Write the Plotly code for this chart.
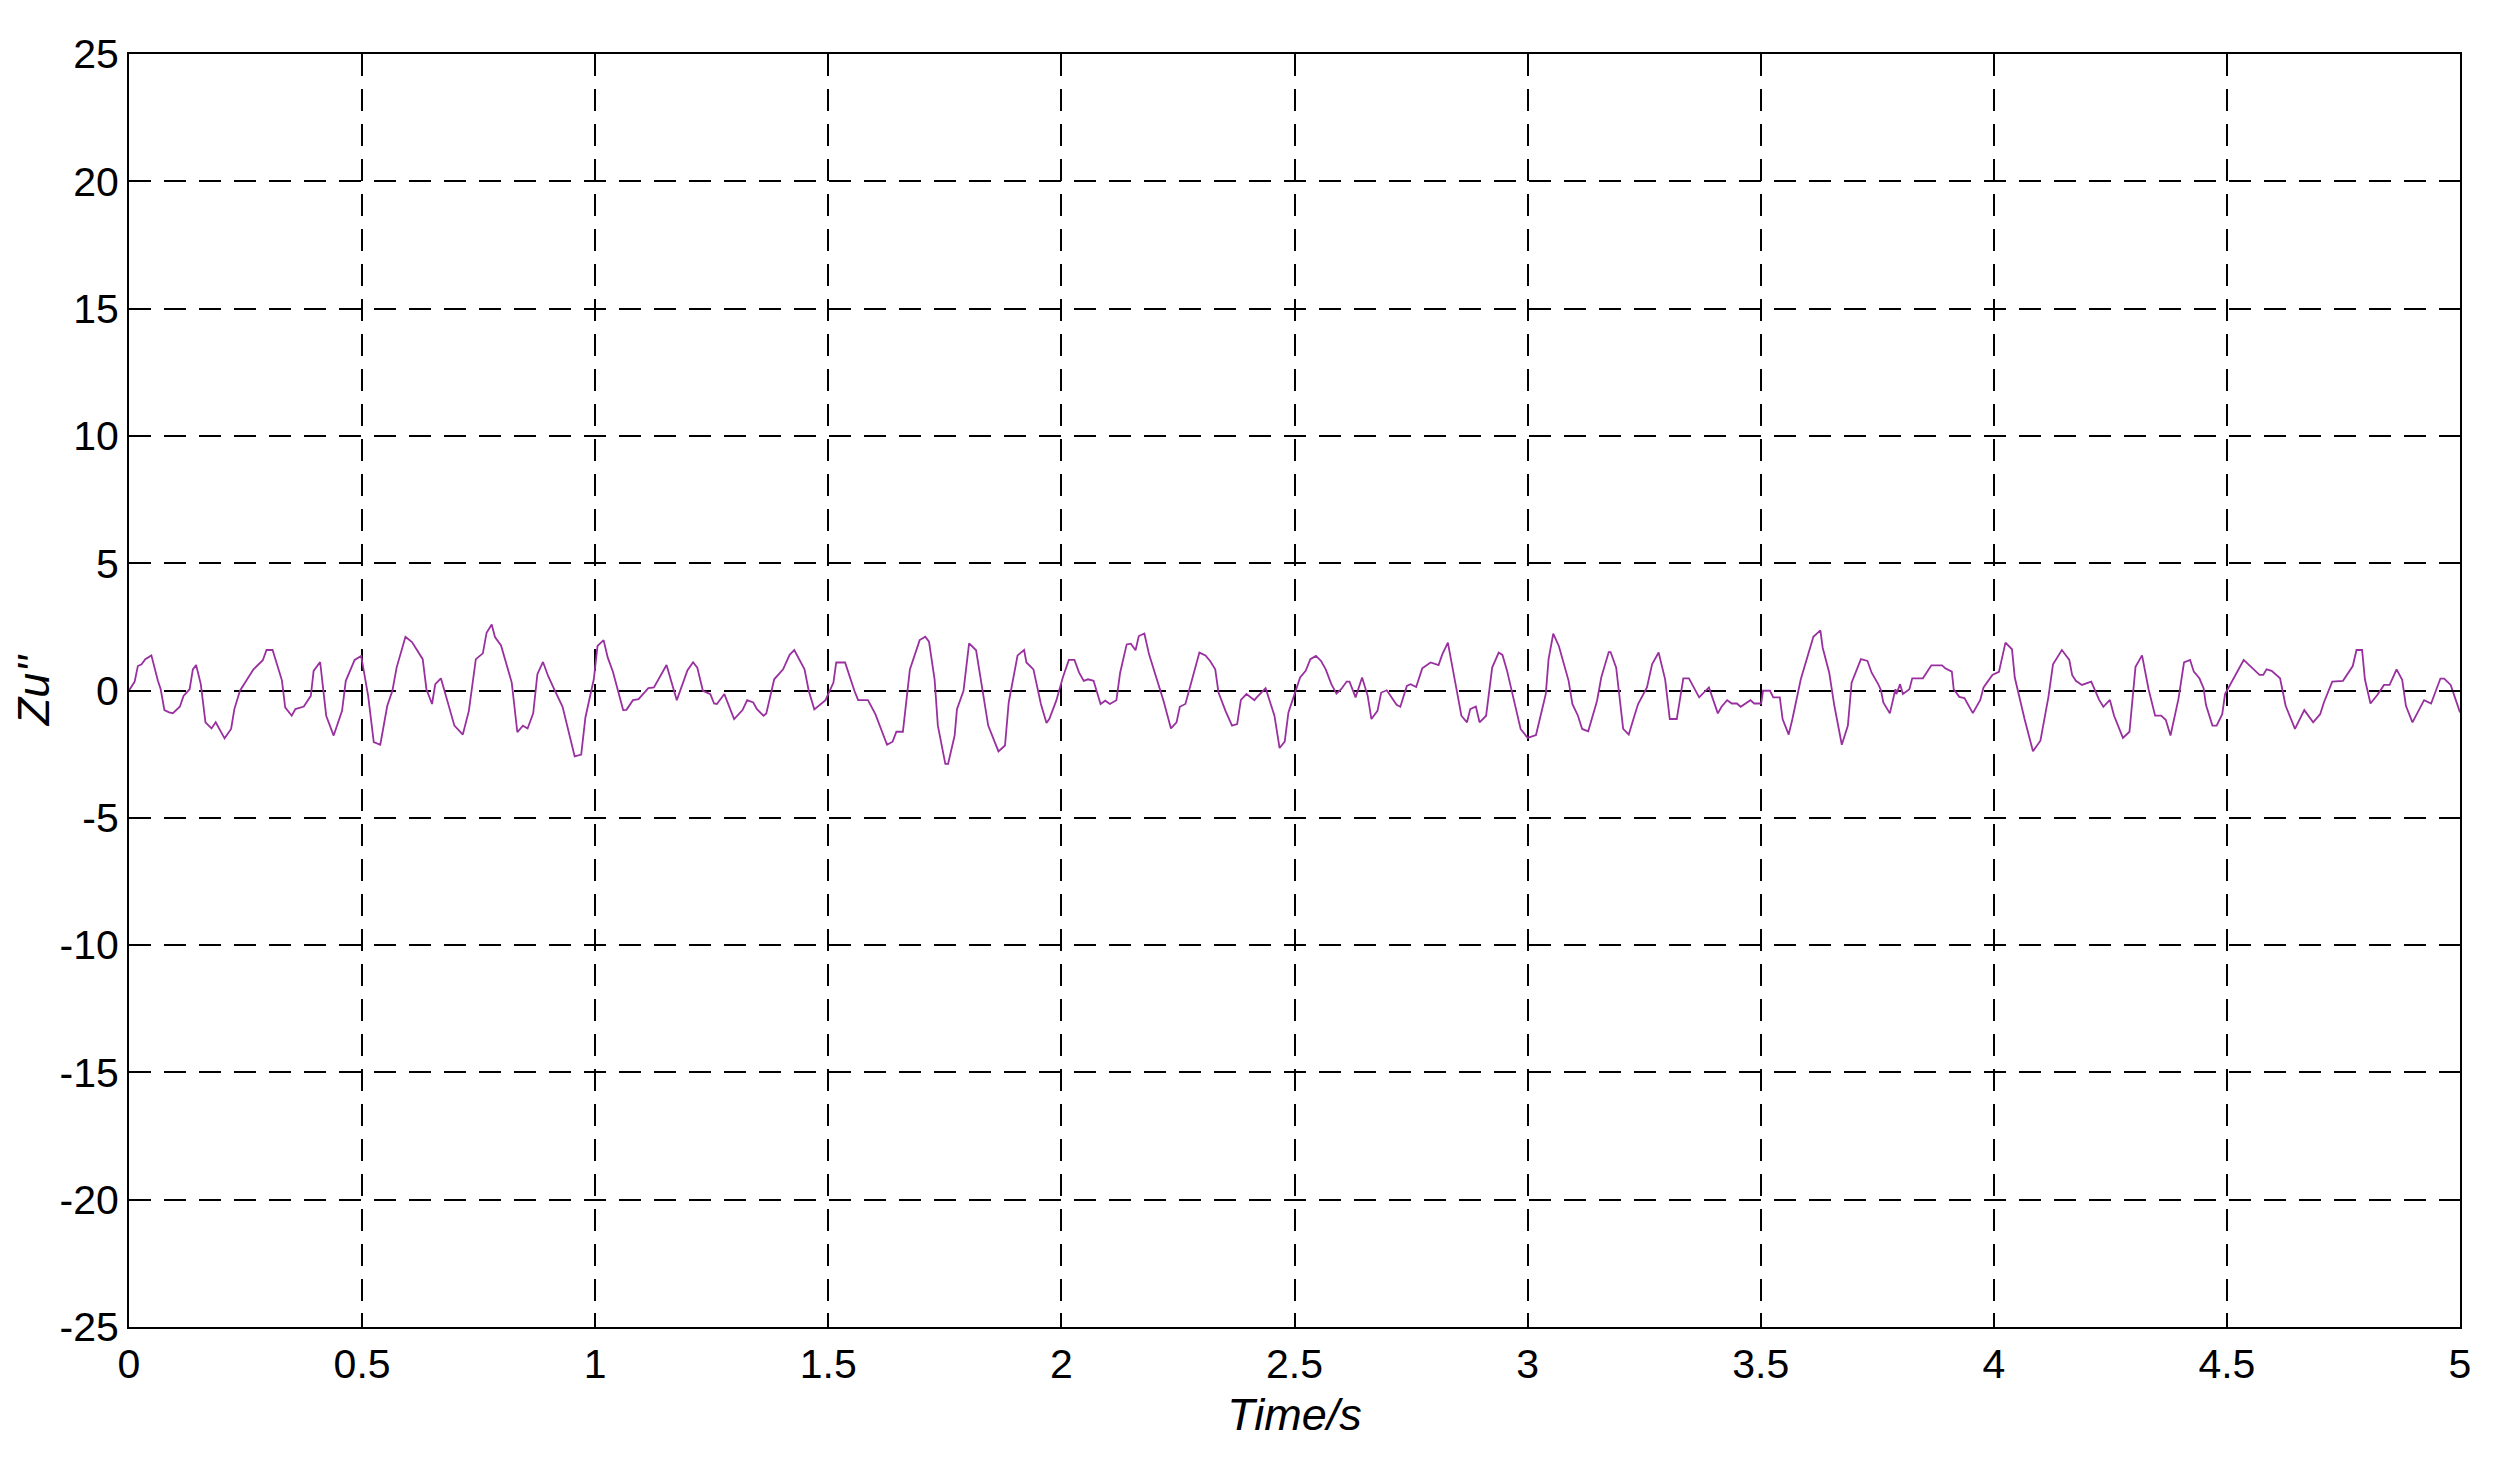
import plotly.graph_objects as go

time_s = [0.000,0.012,0.019,0.027,0.035,0.048,0.062,0.068,0.076,0.086,0.094,0.109,0.117,0.130,0.137,0.144,0.154,0.164,0.177,0.186,0.205,0.219,0.226,0.238,0.267,0.287,0.295,0.308,0.328,0.335,0.349,0.357,0.375,0.390,0.396,0.410,0.423,0.439,0.457,0.465,0.484,0.498,0.513,0.525,0.539,0.554,0.565,0.574,0.593,0.607,0.630,0.638,0.650,0.657,0.669,0.698,0.716,0.729,0.744,0.759,0.767,0.778,0.785,0.798,0.821,0.833,0.845,0.855,0.867,0.876,0.888,0.899,0.911,0.930,0.956,0.970,0.979,0.997,1.005,1.018,1.027,1.038,1.060,1.067,1.081,1.093,1.114,1.126,1.153,1.175,1.198,1.210,1.219,1.231,1.247,1.255,
1.261,1.277,1.298,1.316,1.326,1.339,1.347,1.361,1.367,1.384,1.403,1.417,1.427,1.440,1.449,1.458,1.470,1.494,1.511,1.517,1.536,1.556,1.564,1.585,1.601,1.626,1.638,1.646,1.660,1.675,1.696,1.708,1.716,1.728,1.735,1.751,1.757,1.771,1.776,1.790,1.802,1.817,1.829,1.843,1.865,1.879,1.887,1.906,1.920,1.925,1.940,1.956,1.968,1.974,1.989,2.003,2.016,2.028,2.038,2.048,2.057,2.069,2.084,2.094,2.104,2.118,2.126,2.140,2.149,2.159,2.166,2.178,2.188,2.219,2.235,2.247,2.254,2.266,2.296,2.309,2.319,2.330,2.337,2.352,2.366,2.377,2.385,2.397,2.414,2.419,2.438,2.457,2.468,2.479,2.487,2.512,2.524,
2.534,2.546,2.557,2.567,2.579,2.590,2.600,2.612,2.618,2.631,2.645,2.657,2.665,2.678,2.686,2.698,2.719,2.727,2.741,2.749,2.761,2.774,2.792,2.809,2.817,2.829,2.844,2.858,2.870,2.877,2.889,2.897,2.911,2.924,2.938,2.946,2.956,2.969,2.985,3.000,3.018,3.039,3.045,3.055,3.067,3.088,3.096,3.108,3.117,3.130,3.149,3.158,3.174,3.178,3.190,3.205,3.217,3.227,3.237,3.256,3.267,3.281,3.295,3.305,3.320,3.334,3.346,3.368,3.389,3.408,3.416,3.428,3.438,3.449,3.457,3.478,3.486,3.501,3.505,3.520,3.527,3.541,3.547,3.560,3.568,3.586,3.613,3.628,3.633,3.647,3.658,3.674,3.687,3.695,3.715,3.729,3.738,3.752,3.758,3.763,3.777,3.789,
3.791,3.799,3.805,3.819,3.825,3.848,3.866,3.889,3.896,3.910,3.914,3.926,3.937,3.955,3.971,3.978,3.997,4.011,4.025,4.039,4.045,4.066,4.084,4.100,4.117,4.127,4.146,4.162,4.168,4.176,4.189,4.209,4.226,4.235,4.249,4.258,4.277,4.291,4.304,4.318,4.332,4.346,4.359,4.369,4.379,4.396,4.408,4.421,4.429,4.441,4.450,4.455,4.469,4.478,4.490,4.496,4.536,4.570,4.578,4.585,4.596,4.614,4.626,4.646,4.666,4.685,4.700,4.708,4.726,4.749,4.770,4.778,4.790,4.796,4.808,4.823,4.837,4.849,4.864,4.876,4.884,4.898,4.923,4.938,4.958,4.966,4.980,5.000]

zu = [0,0.34,0.96,1.03,1.23,1.38,0.38,0.05,-0.77,-0.86,-0.89,-0.64,-0.21,0.05,0.83,1.00,0.25,-1.25,-1.49,-1.25,-1.88,-1.51,-0.73,-0.01,0.83,1.19,1.59,1.59,0.40,-0.66,-0.99,-0.73,-0.63,-0.21,0.77,1.12,-0.99,-1.77,-0.80,0.38,1.20,1.36,-0.21,-2.03,-2.13,-0.60,-0.01,0.90,2.11,1.90,1.23,0.05,-0.53,0.25,0.48,-1.38,-1.73,-0.80,1.23,1.46,2.27,2.59,2.10,1.77,0.31,-1.64,-1.38,-1.49,-0.90,0.64,1.12,0.57,0.09,-0.64,-2.59,-2.52,-1.06,0.44,1.75,1.98,1.29,0.74,-0.77,-0.76,-0.38,-0.34,0.09,0.12,1.00,-0.38,0.80,1.11,0.90,-0.01,-0.14,-0.51,
-0.53,-0.14,-1.12,-0.77,-0.38,-0.47,-0.73,-0.99,-0.90,0.44,0.83,1.40,1.59,1.16,0.83,-0.01,-0.74,-0.38,0.31,1.10,1.10,-0.01,-0.38,-0.38,-0.93,-2.13,-2.01,-1.62,-1.62,0.83,1.98,2.11,1.92,0.44,-1.38,-2.88,-2.88,-1.77,-0.73,-0.01,1.85,1.58,0.18,-1.38,-2.39,-2.16,-0.47,1.38,1.59,1.10,0.83,-0.53,-1.28,-1.12,-0.40,0.51,1.20,1.20,0.70,0.38,0.44,0.38,-0.53,-0.40,-0.53,-0.38,0.70,1.81,1.84,1.58,2.14,2.24,1.42,-0.40,-1.49,-1.25,-0.64,-0.53,1.49,1.38,1.16,0.83,-0.08,-0.80,-1.38,-1.32,-0.37,-0.14,-0.38,-0.27,0.09,-0.99,-2.26,-2.01,-0.86,0.51,0.77,
1.23,1.36,1.16,0.83,0.25,-0.12,0.05,0.35,0.35,-0.27,0.51,-0.21,-1.12,-0.80,-0.08,0.01,-0.56,-0.64,0.18,0.25,0.14,0.87,1.10,1.00,1.42,1.88,0.44,-0.99,-1.25,-0.73,-0.63,-1.25,-0.99,0.90,1.49,1.40,0.77,-0.27,-1.51,-1.86,-1.75,-0.14,1.23,2.23,1.75,0.38,-0.53,-0.99,-1.51,-1.60,-0.40,0.51,1.51,1.51,0.90,-1.51,-1.73,-1.12,-0.53,0.12,1.03,1.49,0.44,-1.12,-1.12,0.48,0.48,-0.27,0.12,-0.90,-0.64,-0.38,-0.51,-0.51,-0.64,-0.38,-0.51,-0.51,-0.01,-0.01,-0.27,-0.27,-1.12,-1.73,-1.12,0.44,2.11,2.36,1.68,0.70,-0.60,-2.13,-1.38,0.31,1.23,1.16,0.70,0.25,0.01,-0.47,-0.90,0.05,
-0.14,0.25,-0.14,0.05,0.48,0.48,0.99,0.99,0.87,0.74,0.05,-0.25,-0.30,-0.89,-0.37,0.12,0.61,0.73,1.88,1.62,0.51,-1.12,-2.39,-1.97,-0.27,1.03,1.59,1.20,0.61,0.38,0.22,0.35,-0.37,-0.64,-0.37,-0.99,-1.86,-1.62,0.93,1.38,0.05,-0.99,-0.99,-1.16,-1.77,-0.34,1.10,1.20,0.74,0.48,0.09,-0.56,-1.38,-1.38,-0.93,-0.14,1.20,0.61,0.61,0.83,0.77,0.48,-0.60,-1.51,-0.77,-1.25,-0.93,-0.47,0.35,0.38,0.96,1.59,1.59,0.44,-0.51,-0.17,0.22,0.22,0.83,0.42,-0.60,-1.25,-0.38,-0.51,0.47,0.47,0.22,-0.86]

x_ticks = [0, 0.5, 1, 1.5, 2, 2.5, 3, 3.5, 4, 4.5, 5]
x_tick_labels = ["0", "0.5", "1", "1.5", "2", "2.5", "3", "3.5", "4", "4.5", "5"]
y_ticks = [-25, -20, -15, -10, -5, 0, 5, 10, 15, 20, 25]
y_tick_labels = ["-25", "-20", "-15", "-10", "-5", "0", "5", "10", "15", "20", "25"]

fig = go.Figure(go.Scatter(x=time_s, y=zu, mode="lines",
                           line=dict(color="#99309F", width=1.8), showlegend=False))

font = dict(family="Liberation Sans, Arial, sans-serif", size=41, color="black")
title_font = dict(family="Liberation Sans, Arial, sans-serif", size=45, color="black")
axis_common = dict(showline=True, linecolor="black", linewidth=2, mirror="ticks",
                   ticks="inside", ticklen=14, tickwidth=2, tickcolor="black",
                   showgrid=True, gridcolor="black", gridwidth=2, griddash="22px,13px",
                   zeroline=False, tickfont=font)

fig.update_layout(
    width=2510, height=1467,
    margin=dict(l=121, r=58, t=46, b=148),
    plot_bgcolor="white", paper_bgcolor="white",
    xaxis=dict(range=[0, 5], tickvals=x_ticks, ticktext=x_tick_labels,
               title=dict(text="<i>Time/s</i>", font=title_font, standoff=12), **axis_common),
    yaxis=dict(range=[-25, 25], tickvals=y_ticks, ticktext=y_tick_labels,
               title=dict(text="<i>Zu''</i>", font=title_font, standoff=0), **axis_common),
)
fig.write_html("out.html")
